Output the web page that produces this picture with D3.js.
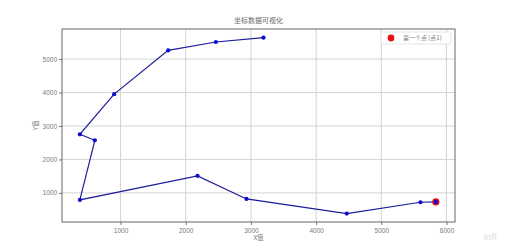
<!DOCTYPE html>
<html>
<head>
<meta charset="utf-8">
<script src="https://cdn.jsdelivr.net/npm/d3@7"></script>
<style>
  body { margin: 0; background: #fff; }
  svg { display: block; font-family: "Noto Sans CJK SC", "DejaVu Sans", sans-serif; }
</style>
</head>
<body>
<svg id="chart" width="506" height="248"></svg>
<script>
'use strict';

// path in drawing order, first point is highlighted in red
var xValues = [5836, 5600, 4470, 2932, 2181, 376, 606, 376, 902, 1730, 2462, 3193];
var yValues = [730, 720, 382, 820, 1510, 790, 2572, 2752, 3952, 5260, 5512, 5641];
var xTicks = [1000, 2000, 3000, 4000, 5000, 6000];
var yTicks = [1000, 2000, 3000, 4000, 5000];
var chartTitle = '坐标数据可视化';
var xLabel = 'X值';
var yLabel = 'Y值';
var legendLabel = '第一个点 (点1)';

var points = xValues.map(function(x, i) { return {x: x, y: yValues[i]}; });

var margin = {left: 62, right: 51, top: 29, bottom: 26};
var width = 506 - margin.left - margin.right;
var height = 248 - margin.top - margin.bottom;

var svg = d3.select('#chart');
var g = svg.append('g').attr('transform', 'translate(' + margin.left + ',' + margin.top + ')');

var x = d3.scaleLinear().domain([102, 6130]).range([0, width]);
var y = d3.scaleLinear().domain([130, 5900]).range([height, 0]);

// grid
g.append('g').selectAll('line').data(xTicks).enter().append('line')
  .attr('x1', function(d) { return x(d); }).attr('x2', function(d) { return x(d); })
  .attr('y1', 0).attr('y2', height)
  .style('stroke', '#cfcfcf').style('stroke-width', 0.9);
g.append('g').selectAll('line').data(yTicks).enter().append('line')
  .attr('y1', function(d) { return y(d); }).attr('y2', function(d) { return y(d); })
  .attr('x1', 0).attr('x2', width)
  .style('stroke', '#cfcfcf').style('stroke-width', 0.9);

// axes
var xAxis = g.append('g').attr('transform', 'translate(0,' + height + ')')
  .call(d3.axisBottom(x).tickValues(xTicks).tickSize(3).tickPadding(3).tickFormat(d3.format('d')));
var yAxis = g.append('g')
  .call(d3.axisLeft(y).tickValues(yTicks).tickSize(3).tickPadding(2).tickFormat(d3.format('d')));
[xAxis, yAxis].forEach(function(ax) {
  ax.select('.domain').remove();
  ax.selectAll('line').style('stroke', '#777');
  ax.selectAll('text').style('fill', '#7a7a7a').style('font-size', '6.5px');
});

// frame
g.append('rect').attr('width', width).attr('height', height)
  .style('fill', 'none').style('stroke', '#666').style('stroke-width', 1);

// line + markers
var line = d3.line().x(function(d) { return x(d.x); }).y(function(d) { return y(d.y); });
g.append('path').datum(points).attr('d', line)
  .style('fill', 'none').style('stroke', '#1c1c9c').style('stroke-width', 1.2);

g.append('circle').attr('cx', x(points[0].x)).attr('cy', y(points[0].y)).attr('r', 3.6)
  .style('fill', '#e8101a');

g.selectAll('.pt').data(points).enter().append('circle').attr('class', 'pt')
  .attr('cx', function(d) { return x(d.x); })
  .attr('cy', function(d) { return y(d.y); })
  .attr('r', 2.1)
  .style('fill', '#0a0ad0');

// titles
svg.append('text').attr('x', margin.left + width / 2).attr('y', 23)
  .attr('text-anchor', 'middle').style('font-size', '7px').style('fill', '#6a6a6a').text(chartTitle);
svg.append('text').attr('x', margin.left + width / 2).attr('y', 240)
  .attr('text-anchor', 'middle').style('font-size', '6.5px').style('fill', '#7a7a7a').text(xLabel);
svg.append('text').attr('transform', 'translate(38,' + (margin.top + height / 2) + ') rotate(-90)')
  .attr('text-anchor', 'middle').style('font-size', '6.5px').style('fill', '#7a7a7a').text(yLabel);

// legend
var lg = svg.append('g').attr('transform', 'translate(381,32)');
lg.append('rect').attr('width', 70).attr('height', 12).attr('rx', 1.5)
  .style('fill', '#fff').style('stroke', '#ddd').style('stroke-width', 0.8);
lg.append('circle').attr('cx', 10).attr('cy', 6).attr('r', 3.4).style('fill', '#e8101a');
lg.append('text').attr('x', 22).attr('y', 8.2).style('font-size', '6px').style('fill', '#7a7a7a').text(legendLabel);

// watermark
svg.append('text').attr('x', 490).attr('y', 240).attr('text-anchor', 'middle')
  .style('font-size', '8px').style('font-weight', 'bold').style('fill', '#e6e6e6').text('Infi');
</script>
</body>
</html>
